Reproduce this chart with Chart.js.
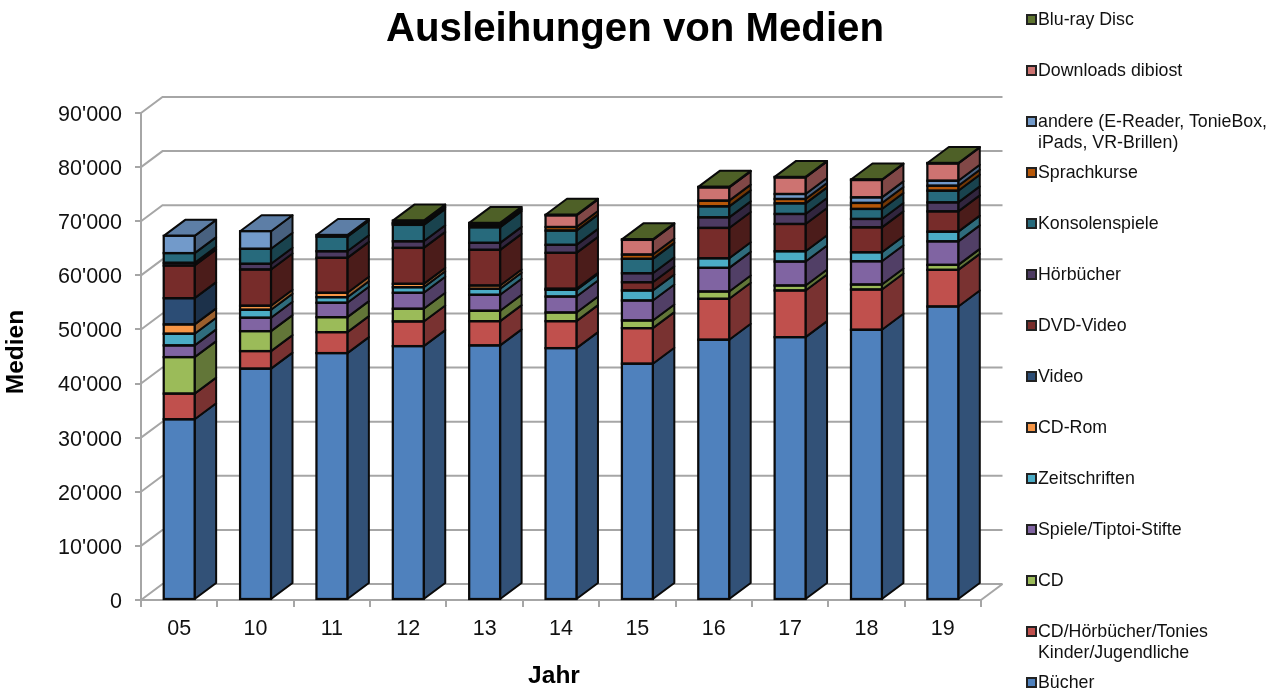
<!DOCTYPE html>
<html lang="de">
<head>
<meta charset="utf-8">
<title>Ausleihungen von Medien</title>
<script src="https://cdn.jsdelivr.net/npm/chart.js@4/dist/chart.umd.min.js"></script>
<style>
  html, body { margin: 0; padding: 0; background: #fff; overflow: hidden; }
  #wrap { position: relative; width: 1283px; height: 693px; font-family: "Liberation Sans", Arial, sans-serif; }
  #chart { position: absolute; left: 0; top: 0; }
  #legend { position: absolute; left: 1026px; top: 9px; color: #111; font-size: 17.8px; line-height: 21px; }
  .item { position: relative; height: 51px; padding-left: 12px; white-space: pre; }
  .item i { position: absolute; left: 0; top: 5px; width: 7px; height: 7px; border: 2px solid #222; }
</style>
</head>
<body>
<div id="wrap">
  <canvas id="chart" width="1283" height="693"></canvas>
  <div id="legend"></div>
</div>
<script>
const years = ['05', '10', '11', '12', '13', '14', '15', '16', '17', '18', '19'];

const buecher = [33400, 42750, 45630, 46920, 47050, 46550, 43670, 48100, 48580, 49940, 54240];
const cdKinder = [4740, 3250, 3870, 4560, 4480, 4980, 6570, 7560, 8620, 7440, 6770];
const cd = [6750, 3690, 2770, 2340, 1920, 1600, 1420, 1350, 920, 920, 920];
const spiele = [2160, 2470, 2660, 2950, 2950, 2950, 3690, 4370, 4430, 4300, 4350];
const zeitschriften = [2160, 1480, 1030, 1030, 1110, 1240, 1850, 1770, 1900, 1660, 1790];
const cdRom = [1720, 740, 810, 630, 610, 200, 0, 0, 0, 0, 0];
const video = [4850, 0, 0, 0, 0, 0, 0, 0, 0, 0, 0];
const dvd = [6030, 6700, 6460, 6640, 6590, 6630, 1530, 5610, 5040, 4610, 3750];
const hoerbuecher = [500, 1050, 1220, 1220, 1290, 1480, 1660, 1960, 1850, 1550, 1660];
const konsole = [1800, 2770, 2710, 3030, 2880, 2640, 2660, 2030, 1960, 1850, 2160];
const sprachkurse = [0, 0, 0, 250, 300, 660, 790, 1050, 810, 1110, 920];
const andere = [3190, 3250, 300, 150, 150, 0, 0, 0, 920, 1030, 920];
const downloads = [0, 0, 0, 0, 0, 2160, 2710, 2450, 3060, 3210, 3190];
const bluray = [0, 0, 0, 400, 360, 100, 100, 100, 100, 100, 100];

const yTicks = { min: 0, max: 90000, step: 10000 };

const series = [
  ['Bücher', buecher, '#4f81bd'],
  ['CD/Hörbücher/Tonies\nKinder/Jugendliche', cdKinder, '#c0504d'],
  ['CD', cd, '#9bbb59'],
  ['Spiele/Tiptoi-Stifte', spiele, '#8064a2'],
  ['Zeitschriften', zeitschriften, '#4bacc6'],
  ['CD-Rom', cdRom, '#f79646'],
  ['Video', video, '#2c4d75'],
  ['DVD-Video', dvd, '#772c2a'],
  ['Hörbücher', hoerbuecher, '#4d3b62'],
  ['Konsolenspiele', konsole, '#276a7c'],
  ['Sprachkurse', sprachkurse, '#b65708'],
  ['andere (E-Reader, TonieBox,\niPads, VR-Brillen)', andere, '#729aca'],
  ['Downloads dibiost', downloads, '#cd7371'],
  ['Blu-ray Disc', bluray, '#5f7530'],
];

const DEPTH_X = 21.5;
const DEPTH_Y = 16;
const GRID = '#a6a6a6';
const EDGE = '#0a0a0a';
const TEXT = '#111';
const FAMILY = '"Liberation Sans"';

const shade = (hex, f) => {
  const n = parseInt(hex.slice(1), 16);
  const c = [n >> 16, (n >> 8) & 255, n & 255].map((v) => Math.round(v * f));
  return `rgb(${c[0]}, ${c[1]}, ${c[2]})`;
};

const quad = (ctx, pts, fill) => {
  ctx.beginPath();
  pts.forEach((p, i) => (i ? ctx.lineTo(p[0], p[1]) : ctx.moveTo(p[0], p[1])));
  ctx.closePath();
  ctx.fillStyle = fill;
  ctx.fill();
  ctx.stroke();
};

// chart.js has no 3d bars, so walls and bar sides are added around the real bars
const depthPlugin = {
  id: 'depth',
  afterLayout(chart) {
    chart.titleBlock.left = 0;
    chart.titleBlock.right = 1270;
    // tick labels sit a little under their tick in the original
    chart.scales.y.getLabelItems(chart.chartArea).forEach((item) => {
      item.options.translation[1] += 2;
    });
  },
  beforeDatasetsDraw(chart) {
    const { ctx, chartArea, scales } = chart;
    const { left, right, bottom } = chartArea;
    ctx.save();

    ctx.strokeStyle = GRID;
    ctx.lineWidth = 2;
    scales.y.ticks.forEach((t) => {
      const y = scales.y.getPixelForValue(t.value);
      ctx.beginPath();
      ctx.moveTo(left, y);
      ctx.lineTo(left + DEPTH_X, y - DEPTH_Y);
      ctx.lineTo(right + DEPTH_X, y - DEPTH_Y);
      ctx.stroke();
    });
    ctx.beginPath();
    ctx.moveTo(right, bottom);
    ctx.lineTo(right + DEPTH_X, bottom - DEPTH_Y);
    ctx.stroke();

    ctx.strokeStyle = EDGE;
    ctx.lineWidth = 2;
    ctx.lineJoin = 'round';
    years.forEach((year, j) => {
      let last = null;
      series.forEach((s, i) => {
        if (!s[1][j]) return;
        const bar = chart.getDatasetMeta(i).data[j];
        const r = bar.x + bar.width / 2;
        quad(ctx, [
          [r, bar.base],
          [r + DEPTH_X, bar.base - DEPTH_Y],
          [r + DEPTH_X, bar.y - DEPTH_Y],
          [r, bar.y],
        ], shade(s[2], 0.63));
        last = { bar, color: s[2] };
      });
      const l = last.bar.x - last.bar.width / 2;
      const r = last.bar.x + last.bar.width / 2;
      const y = last.bar.y;
      quad(ctx, [
        [l, y],
        [l + DEPTH_X, y - DEPTH_Y],
        [r + DEPTH_X, y - DEPTH_Y],
        [r, y],
      ], shade(last.color, 0.82));
    });
    ctx.restore();
  },
  afterDatasetsDraw(chart) {
    // outlines centred on the segment edges, a bar border would sit inside them
    const { ctx } = chart;
    ctx.save();
    ctx.strokeStyle = EDGE;
    ctx.lineWidth = 2.25;
    series.forEach((s, i) => {
      chart.getDatasetMeta(i).data.forEach((bar, j) => {
        if (!s[1][j]) return;
        ctx.strokeRect(bar.x - bar.width / 2, bar.y, bar.width, bar.base - bar.y);
      });
    });
    ctx.restore();
  },
  afterDraw(chart) {
    // axis titles are off centre in the original, scale titles can't do that
    const { ctx } = chart;
    ctx.save();
    ctx.fillStyle = '#000';
    ctx.font = `bold 24.5px ${FAMILY}`;
    ctx.textAlign = 'center';
    ctx.textBaseline = 'middle';
    ctx.fillText('Jahr', 554, 676);
    ctx.translate(16, 352);
    ctx.rotate(-Math.PI / 2);
    ctx.fillText('Medien', 0, 0);
    ctx.restore();
  },
};

const chart = new Chart(document.getElementById('chart'), {
  type: 'bar',
  data: {
    labels: years,
    datasets: series.map((s) => ({
      label: s[0],
      data: s[1],
      backgroundColor: s[2],
      borderWidth: 0,
      categoryPercentage: 1,
      barPercentage: 0.405,
    })),
  },
  options: {
    responsive: false,
    animation: false,
    layout: { padding: { left: 0, right: 302, top: 0, bottom: 0 } },
    plugins: {
      legend: { display: false },
      tooltip: { enabled: false },
      title: {
        display: true,
        text: 'Ausleihungen von Medien',
        color: '#000',
        font: { family: FAMILY, size: 40.2, weight: 'bold', lineHeight: 1.2 },
        padding: { top: 6, bottom: 58.76 },
      },
    },
    scales: {
      x: {
        stacked: true,
        afterFit: (scale) => { scale.height = 93; },
        grid: { drawOnChartArea: false, color: GRID, lineWidth: 2, tickLength: 7 },
        border: { color: GRID, width: 2 },
        ticks: { color: TEXT, padding: 9, font: { family: FAMILY, size: 21.5 } },
      },
      y: {
        stacked: true,
        min: yTicks.min,
        max: yTicks.max,
        afterFit: (scale) => { scale.width = 141; },
        grid: { drawOnChartArea: false, color: GRID, lineWidth: 2, tickLength: 6 },
        border: { color: GRID, width: 2 },
        ticks: {
          stepSize: yTicks.step,
          color: TEXT,
          padding: 13,
          font: { family: FAMILY, size: 21.5 },
          callback: (v) => String(v).replace(/\B(?=(\d{3})+$)/g, "'"),
        },
      },
    },
  },
  plugins: [depthPlugin],
});

const legend = document.getElementById('legend');
chart.data.datasets.slice().reverse().forEach((ds) => {
  const item = document.createElement('div');
  item.className = 'item';
  const box = document.createElement('i');
  box.style.background = ds.backgroundColor;
  item.append(box, ds.label);
  legend.append(item);
});
</script>
</body>
</html>
